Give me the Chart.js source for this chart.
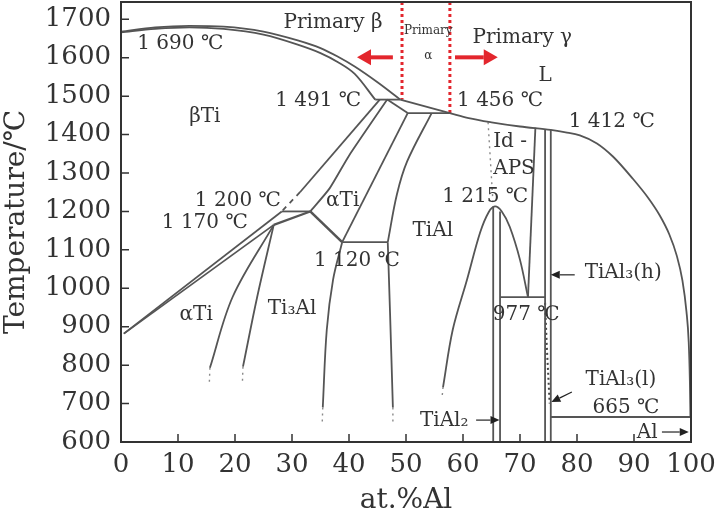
<!DOCTYPE html>
<html>
<head>
<meta charset="utf-8">
<script src="https://cdn.jsdelivr.net/npm/chart.js@4.4.1/dist/chart.umd.min.js"></script>
<style>
  body { margin: 0; background: #fff; }
  canvas { display: block; }
</style>
</head>
<body>
<canvas id="chart" width="718" height="518"></canvas>
<script>
// axis ticks
const xTicks = [0, 10, 20, 30, 40, 50, 60, 70, 80, 90, 100];
const yTicks = [600, 700, 800, 900, 1000, 1100, 1200, 1300, 1400, 1500, 1600, 1700];

// phase boundaries, [at.% Al, temperature]
const liquidusBeta = [[0,1668],[6,1679],[12,1683],[18,1681],[25,1668],[31,1645],[35,1625],[38,1603],[41,1577],[45,1536],[49,1491]];
const liquidusAlpha = [[49,1491],[57.7,1456]];
const liquidusGamma = [[57.7,1456],[61,1443],[65,1432],[70,1421],[75.4,1412],[78,1406],[80.5,1398],[83.5,1377],[86.3,1343],[89.8,1285],[92.5,1235],[94.5,1190],[96.2,1140],[97.5,1085],[98.5,1020],[99.2,940],[99.6,860],[99.8,760],[99.9,665]];
const solidusBeta = [[0,1666],[6,1675],[12,1679],[18,1675],[25,1660],[31,1634],[35,1612],[38,1589],[41,1558],[44.6,1491]];
const peritectic1491 = [[44.6,1491],[49,1491]];
const solidusAlpha = [[46.7,1491],[50.3,1456]];
const peritectic1456 = [[50.3,1456],[57.7,1456]];
const betaTransus = [[45.4,1491],[31.4,1250]];
const betaTransusDash = [[31.4,1250],[28.2,1200]];
const alphaTransus = [[46.7,1491],[40,1345],[36.6,1260],[33.2,1200]];
const line1200 = [[28.2,1200],[33.2,1200]];
const alphaAlpha2 = [[33.2,1200],[38.8,1120]];
const alphaGamma = [[50.3,1456],[38.8,1120]];
const gammaAlpha = [[54.5,1456],[50.2,1330],[48.4,1244],[46.8,1120]];
const eutectoid1120 = [[38.8,1120],[46.8,1120]];
const betaLow = [[0.5,882],[28.2,1200]];
const betaLow2 = [[0.5,882],[26.8,1165]];
const link1170 = [[26.8,1165],[33.2,1200]];
const ti3alLeft = [[26.8,1165],[19.6,978],[15.6,793]];
const ti3alRight = [[26.8,1165],[23.9,978],[21.4,796]];
const alpha2Low = [[38.8,1120],[37.2,1022],[36.1,892],[35.4,690]];
const gammaLow = [[46.8,1120],[47.2,936],[47.7,690]];
const tial2Dome = [[56.5,743],[58.2,892],[60.7,1022],[63,1145],[64.5,1198],[65.6,1213],[66.8,1200],[68.2,1160],[70,1074],[71.4,977]];
const tial2Left = [[65.3,1213],[65.3,600]];
const tial2Right = [[66.5,1200],[66.5,600]];
const line977 = [[66.5,977],[74.4,977]];
const idApsEdge = [[71.4,977],[72.7,1418]];
const tial3Left = [[74.4,1414],[74.4,600]];
const tial3Right = [[75.4,1412],[75.4,600]];
const line665 = [[75.4,665],[99.9,665]];
// dotted ends
const dotsTi3alL = [[15.6,793],[15.5,755]];
const dotsTi3alR = [[21.4,796],[21.3,755]];
const dotsAlpha2 = [[35.4,690],[35.3,650]];
const dotsGamma = [[47.7,690],[47.7,650]];
const dotsDome = [[56.5,743],[56.3,712]];
const dotsIdAps = [[64.4,1432],[65.3,1213]];
const dotsTial3 = [[74.4,962],[74.7,850],[75.2,700]];
// red primary-phase limits
const redBeta = [[49.3,1745],[49.3,1491]];
const redGamma = [[57.7,1745],[57.7,1456]];

const pts = a => a.map(p => ({ x: p[0], y: p[1] }));
function line(arr, extra) {
  return Object.assign({
    data: pts(arr), showLine: true, pointRadius: 0,
    borderColor: '#555', borderWidth: 1.8, tension: 0
  }, extra || {});
}
const curve = { tension: 0.35 };
const smooth = { cubicInterpolationMode: 'monotone' };
const dotted = { borderColor: '#8a8a8a', borderWidth: 1.4, borderDash: [2, 4] };
const red = { borderColor: '#e3262d', borderWidth: 3, borderDash: [3, 3] };

const datasets = [
  line(liquidusBeta, smooth), line(liquidusAlpha), line(liquidusGamma, smooth),
  line(solidusBeta, smooth), line(peritectic1491), line(solidusAlpha),
  line(peritectic1456), line(betaTransus), line(betaTransusDash, { borderDash: [5, 5] }),
  line(alphaTransus, { tension: 0.2 }), line(line1200), line(alphaAlpha2, { borderWidth: 2.6 }),
  line(alphaGamma), line(gammaAlpha, curve), line(eutectoid1120),
  line(betaLow), line(betaLow2), line(link1170, { borderWidth: 2.2 }),
  line(ti3alLeft, curve), line(ti3alRight, curve), line(alpha2Low, curve), line(gammaLow, curve),
  line(tial2Dome, curve), line(tial2Left), line(tial2Right), line(line977),
  line(idApsEdge), line(tial3Left), line(tial3Right), line(line665),
  line(dotsTi3alL, dotted), line(dotsTi3alR, dotted), line(dotsAlpha2, dotted),
  line(dotsGamma, dotted), line(dotsDome, dotted), line(dotsIdAps, dotted),
  line(dotsTial3, { borderColor: '#444', borderWidth: 2, borderDash: [2, 3] }),
  line(redBeta, red), line(redGamma, red)
];

// text labels: text, x, T, font size, align
const labels = [
  ['1 690 \u2103', 10.4, 1635, 20, 'center'],
  ['Primary \u03b2', 37.2, 1690, 20, 'center'],
  ['Primary', 53.9, 1669, 12, 'center'],
  ['\u03b1', 53.9, 1604, 12, 'center'],
  ['Primary \u03b3', 70.4, 1653, 20, 'center'],
  ['L', 74.4, 1554, 20, 'center'],
  ['1 456 \u2103', 66.5, 1489, 20, 'center'],
  ['1 412 \u2103', 86.1, 1434, 20, 'center'],
  ['Id -', 65.3, 1382, 20, 'left'],
  ['APS', 65.3, 1312, 20, 'left'],
  ['1 215 \u2103', 63.9, 1239, 20, 'center'],
  ['1 491 \u2103', 34.6, 1489, 20, 'center'],
  ['\u03b2Ti', 14.7, 1447, 20, 'center'],
  ['1 200 \u2103', 20.5, 1228, 20, 'center'],
  ['1 170 \u2103', 14.7, 1171, 20, 'center'],
  ['\u03b1Ti', 38.9, 1228, 20, 'center'],
  ['1 120 \u2103', 41.4, 1072, 20, 'center'],
  ['TiAl', 54.7, 1150, 20, 'center'],
  ['\u03b1Ti', 13.2, 931, 20, 'center'],
  ['Ti\u2083Al', 30, 947, 20, 'center'],
  ['977 \u2103', 71.1, 931, 20, 'center'],
  ['TiAl\u2083(h)', 88.1, 1041, 20, 'center'],
  ['TiAl\u2083(l)', 87.7, 762, 20, 'center'],
  ['665 \u2103', 88.6, 689, 20, 'center'],
  ['TiAl\u2082', 56.7, 655, 20, 'center'],
  ['Al', 92.3, 623, 20, 'center']
];

// arrows: from [x, T] to [x, T]
const redArrows = [[[47.7,1601],[41.4,1601]], [[58.6,1601],[66.1,1601]]];
const blackArrows = [
  [[79.6,1035],[75.4,1035]],
  [[79.1,730],[75.5,704]],
  [[62.3,657],[66.4,657]],
  [[94.9,626],[99.6,626]]
];

function arrow(ctx, x1, y1, x2, y2, w, head, half, color) {
  const ang = Math.atan2(y2 - y1, x2 - x1);
  const bx = x2 - head * Math.cos(ang), by = y2 - head * Math.sin(ang);
  ctx.strokeStyle = color; ctx.fillStyle = color; ctx.lineWidth = w;
  ctx.beginPath(); ctx.moveTo(x1, y1); ctx.lineTo(bx, by); ctx.stroke();
  ctx.beginPath();
  ctx.moveTo(x2, y2);
  ctx.lineTo(bx + half * Math.sin(ang), by - half * Math.cos(ang));
  ctx.lineTo(bx - half * Math.sin(ang), by + half * Math.cos(ang));
  ctx.closePath(); ctx.fill();
}

const decor = {
  id: 'decor',
  afterDatasetsDraw(chart) {
    const { ctx, chartArea: a, scales: { x, y } } = chart;
    ctx.save();
    ctx.strokeStyle = '#333';
    ctx.lineWidth = 2;
    ctx.strokeRect(a.left, a.top, a.right - a.left, a.bottom - a.top);
    ctx.lineWidth = 1.5;
    ctx.beginPath();
    xTicks.forEach(v => {
      const px = x.getPixelForValue(v);
      ctx.moveTo(px, a.bottom); ctx.lineTo(px, a.bottom - 8);
    });
    yTicks.forEach(v => {
      const py = y.getPixelForValue(v);
      ctx.moveTo(a.left, py); ctx.lineTo(a.left + 8, py);
    });
    ctx.stroke();

    redArrows.forEach(([p, q]) => arrow(ctx, x.getPixelForValue(p[0]), y.getPixelForValue(p[1]),
      x.getPixelForValue(q[0]), y.getPixelForValue(q[1]), 4, 14, 8, '#e3262d'));
    blackArrows.forEach(([p, q]) => arrow(ctx, x.getPixelForValue(p[0]), y.getPixelForValue(p[1]),
      x.getPixelForValue(q[0]), y.getPixelForValue(q[1]), 1.2, 9, 4, '#222'));

    ctx.fillStyle = '#333';
    ctx.textBaseline = 'middle';
    labels.forEach(([t, vx, vy, size, align]) => {
      ctx.font = size + "px 'DejaVu Serif', serif";
      ctx.textAlign = align;
      ctx.fillText(t, x.getPixelForValue(vx), y.getPixelForValue(vy));
    });
    ctx.restore();
  }
};

const tickFont = { family: "'DejaVu Serif', serif", size: 26 };

new Chart(document.getElementById('chart'), {
  type: 'scatter',
  data: { datasets: datasets },
  options: {
    responsive: false,
    animation: false,
    layout: { padding: { top: 2, right: 27, left: 0, bottom: 0 } },
    plugins: { legend: { display: false }, tooltip: { enabled: false } },
    scales: {
      x: {
        type: 'linear', min: 0, max: 100,
        afterBuildTicks: s => { s.ticks = xTicks.map(v => ({ value: v })); },
        afterFit: s => { s.height = 76; s.paddingLeft = 0; s.paddingRight = 0; },
        grid: { display: false, drawTicks: false },
        border: { display: false },
        ticks: { font: tickFont, color: '#333', padding: 8, maxRotation: 0, callback: v => String(v) },
        title: { display: true, text: 'at.%Al', color: '#333', padding: { top: 0, bottom: 0 },
                 font: { family: "'DejaVu Serif', serif", size: 28 } }
      },
      y: {
        type: 'linear', min: 600, max: 1745,
        afterBuildTicks: s => { s.ticks = yTicks.map(v => ({ value: v })); },
        afterFit: s => { s.width = 121; s.paddingTop = 0; s.paddingBottom = 0; },
        grid: { display: false, drawTicks: false },
        border: { display: false },
        ticks: { font: tickFont, color: '#333', padding: 10, callback: v => String(v) },
        title: { display: true, text: 'Temperature/\u2103', color: '#333', padding: { top: 0, bottom: 0 },
                 font: { family: "'DejaVu Serif', serif", size: 28 } }
      }
    }
  },
  plugins: [decor]
});
</script>
</body>
</html>
